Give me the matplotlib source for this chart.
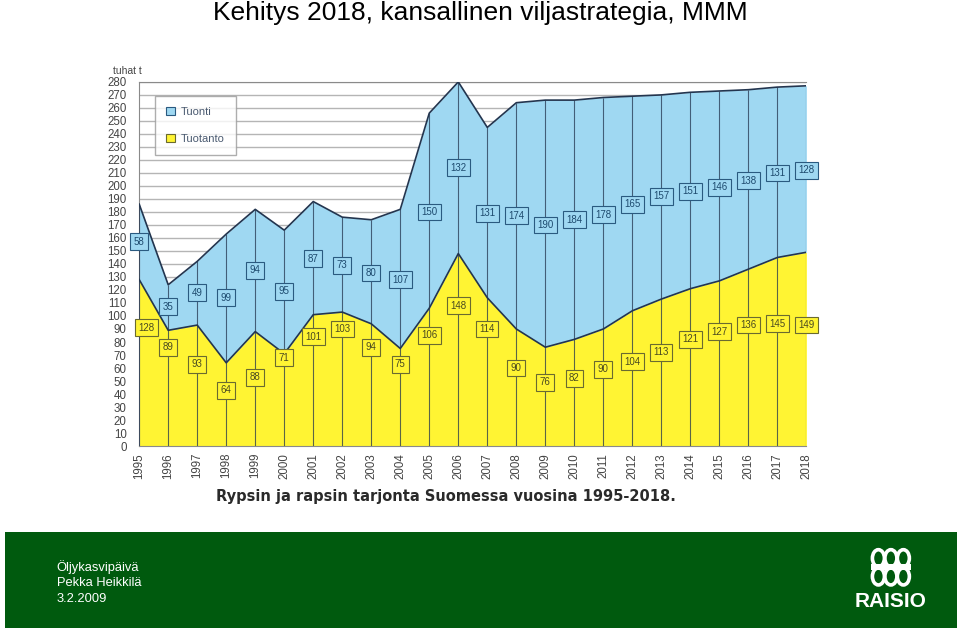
import matplotlib
matplotlib.use("Agg")
import matplotlib.pyplot as plt
from matplotlib.patches import Patch, Rectangle, Ellipse

years = list(range(1995, 2019))
tuotanto = [128, 89, 93, 64, 88, 71, 101, 103, 94, 75, 106, 148,
            114, 90, 76, 82, 90, 104, 113, 121, 127, 136, 145, 149]
tuonti = [58, 35, 49, 99, 94, 95, 87, 73, 80, 107, 150, 132,
          131, 174, 190, 184, 178, 165, 157, 151, 146, 138, 131, 128]

# where the little value boxes sit (data units)
tuotanto_label_y = [91, 76, 63, 43, 53, 68, 84, 90, 76, 63, 85, 108,
                    90, 60, 49, 52, 59, 65, 72, 82, 88, 93, 94, 93]
tuonti_label_y = [157, 107, 118, 114, 135, 119, 144, 139, 133, 128, 180, 214,
                  179, 177, 170, 174, 178, 186, 192, 196, 199, 204, 210, 212]

BLUE = "#9fd8f2"
YELLOW = "#fff433"
EDGE = "#23354f"

plt.rcParams["font.family"] = ["Liberation Sans", "DejaVu Sans"]

fig = plt.figure(figsize=(9.6, 6.3), dpi=100)
fig.text(0.5, 0.979, "Kehitys 2018, kansallinen viljastrategia, MMM",
         ha="center", va="center", fontsize=19, color="black")

ax = fig.add_axes([0.145, 0.292, 0.695, 0.578])
totals = [a + b for a, b in zip(tuotanto, tuonti)]

ax.set_axisbelow(True)
ax.yaxis.grid(True, color="#b5b5b5", lw=1.0)
ax.fill_between(years, 0, tuotanto, color=YELLOW, lw=0, zorder=2)
ax.fill_between(years, tuotanto, totals, color=BLUE, lw=0, zorder=2)
ax.plot(years, tuotanto, color=EDGE, lw=1.2, zorder=3)
ax.plot(years, totals, color=EDGE, lw=1.2, zorder=3)
ax.vlines(years, 0, totals, color=EDGE, lw=0.8, alpha=0.75, zorder=3)

for i, (x, v, yl) in enumerate(zip(years, tuotanto, tuotanto_label_y)):
    dx = 0.25 if i == 0 else 0
    ax.text(x + dx, yl, str(v), ha="center", va="center", fontsize=7,
            color="#4a4a20", zorder=5,
            bbox=dict(boxstyle="square,pad=0.35", fc=YELLOW, ec="#6a6a30", lw=0.8))
for x, v, yl in zip(years, tuonti, tuonti_label_y):
    ax.text(x, yl, str(v), ha="center", va="center", fontsize=7,
            color="#1d4a6e", zorder=5,
            bbox=dict(boxstyle="square,pad=0.35", fc=BLUE, ec="#2a5a80", lw=0.8))

ax.set_xlim(1995, 2018)
ax.set_ylim(0, 280)
ax.set_yticks(range(0, 281, 10))
ax.set_xticks(years)
ax.set_xticklabels([str(y) for y in years], rotation=90)
ax.tick_params(axis="both", length=0, labelsize=8.3, colors="#444444")
ax.tick_params(axis="y", pad=9)
ax.tick_params(axis="x", pad=5)
for s in ["left", "bottom", "top"]:
    ax.spines[s].set_color("#8a8a8a")
ax.spines["right"].set_visible(False)
ax.text(-0.04, 1.03, "tuhat t", transform=ax.transAxes, fontsize=7.5,
        color="#444444", ha="left", va="center")

handles = [Patch(fc=BLUE, ec="#2a5a80", lw=0.8, label="Tuonti"),
           Patch(fc=YELLOW, ec="#6a6a30", lw=0.8, label="Tuotanto")]
leg = ax.legend(handles=handles, loc="upper left", bbox_to_anchor=(0.024, 0.962),
                fontsize=8, frameon=True, fancybox=False, edgecolor="#9a9a9a",
                handlelength=0.8, handleheight=0.8, labelspacing=1.5,
                borderpad=1.0, handletextpad=0.5, borderaxespad=0)
leg.get_frame().set_linewidth(1.0)
for t in leg.get_texts():
    t.set_color("#4a5a70")

fig.text(0.465, 0.212, "Rypsin ja rapsin tarjonta Suomessa vuosina 1995-2018.",
         ha="center", va="center", fontsize=10.5, fontweight="bold", color="#2a2a2a",
         family="DejaVu Sans")

# green footer band
fig.patches.append(Rectangle((0.005, 0.003), 0.992, 0.152, transform=fig.transFigure,
                             fc="#005a0e", ec="none"))
for i, line in enumerate(["Öljykasvipäivä", "Pekka Heikkilä", "3.2.2009"]):
    fig.text(0.059, 0.1 - i * 0.0255, line, fontsize=9.3, color="white",
             ha="left", va="center")
fig.text(0.928, 0.046, "RAISIO", fontsize=15, fontweight="bold", color="white",
         ha="center", va="center")
# rough version of the logo mark
for cx in (0.915, 0.928, 0.941):
    for cy in (0.114, 0.085):
        fig.patches.append(Ellipse((cx, cy), 0.0125, 0.027, transform=fig.transFigure,
                                   fc="none", ec="white", lw=2.6))
fig.patches.append(Rectangle((0.907, 0.095), 0.042, 0.009, transform=fig.transFigure,
                             fc="white", ec="none"))

fig.savefig("out.png", dpi=100)
